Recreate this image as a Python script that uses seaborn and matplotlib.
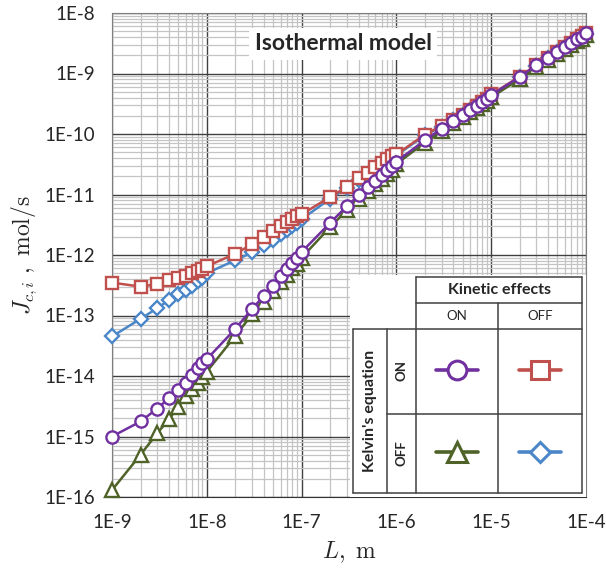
import matplotlib
matplotlib.use("Agg")
import matplotlib.pyplot as plt
import matplotlib.ticker as mticker
import numpy as np
import pandas as pd
import seaborn as sns

# Pore size L (m)
L = [1e-9, 2e-9, 3e-9, 4e-9, 5e-9, 6e-9, 7e-9, 8e-9, 9e-9,
     1e-8, 2e-8, 3e-8, 4e-8, 5e-8, 6e-8, 7e-8, 8e-8, 9e-8,
     1e-7, 2e-7, 3e-7, 4e-7, 5e-7, 6e-7, 7e-7, 8e-7, 9e-7,
     1e-6, 2e-6, 3e-6, 4e-6, 5e-6, 6e-6, 7e-6, 8e-6, 9e-6,
     1e-5, 2e-5, 3e-5, 4e-5, 5e-5, 6e-5, 7e-5, 8e-5, 9e-5,
     1e-4]

# Kelvin ON / Kinetic ON
J_on_on = [1.0e-15, 1.77e-15, 2.9e-15, 4.3e-15, 5.9e-15, 7.8e-15, 1.04e-14, 1.37e-14, 1.62e-14,
           1.9e-14, 6.0e-14, 1.29e-13, 2.1e-13, 3.1e-13, 4.5e-13, 5.8e-13, 7.5e-13, 9.0e-13,
           1.12e-12, 3.4e-12, 6.4e-12, 9.7e-12, 1.34e-11, 1.7e-11, 2.1e-11, 2.5e-11, 2.95e-11,
           3.5e-11, 7.9e-11, 1.22e-10, 1.66e-10, 2.09e-10, 2.47e-10, 2.9e-10, 3.35e-10, 3.8e-10,
           4.4e-10, 8.8e-10, 1.37e-9, 1.82e-9, 2.29e-9, 2.77e-9, 3.2e-9, 3.7e-9, 4.05e-9,
           4.6e-9]

# Kelvin ON / Kinetic OFF
J_on_off = [3.5e-13, 3.0e-13, 3.3e-13, 3.8e-13, 4.1e-13, 4.5e-13, 5.0e-13, 5.5e-13, 5.9e-13,
            6.5e-13, 1.05e-12, 1.5e-12, 2.0e-12, 2.5e-12, 3.0e-12, 3.5e-12, 4.0e-12, 4.4e-12,
            4.7e-12, 9.1e-12, 1.34e-11, 1.84e-11, 2.3e-11, 2.8e-11, 3.3e-11, 3.9e-11, 4.3e-11,
            4.6e-11, 9.8e-11, 1.37e-10, 1.73e-10, 2.1e-10, 2.5e-10, 2.9e-10, 3.35e-10, 3.8e-10,
            4.5e-10, 8.9e-10, 1.38e-9, 1.83e-9, 2.3e-9, 2.78e-9, 3.22e-9, 3.7e-9, 4.1e-9,
            4.6e-9]

# Kelvin OFF / Kinetic ON
J_off_on = [1.3e-16, 5.0e-16, 1.13e-15, 1.94e-15, 3.1e-15, 4.6e-15, 6.1e-15, 7.8e-15, 9.6e-15,
            1.18e-14, 4.6e-14, 1.04e-13, 1.7e-13, 2.5e-13, 3.6e-13, 4.6e-13, 6.0e-13, 7.2e-13,
            9.0e-13, 2.9e-12, 5.5e-12, 8.3e-12, 1.15e-11, 1.47e-11, 1.82e-11, 2.17e-11, 2.56e-11,
            3.2e-11, 7.2e-11, 1.12e-10, 1.52e-10, 1.92e-10, 2.27e-10, 2.67e-10, 3.08e-10, 3.5e-10,
            4.05e-10, 8.1e-10, 1.26e-9, 1.68e-9, 2.11e-9, 2.55e-9, 2.95e-9, 3.4e-9, 3.75e-9,
            4.25e-9]

# Kelvin OFF / Kinetic OFF
J_off_off = [4.5e-14, 8.8e-14, 1.32e-13, 1.8e-13, 2.25e-13, 2.65e-13, 3.1e-13, 3.65e-13, 4.1e-13,
             5.0e-13, 8.2e-13, 1.1e-12, 1.45e-12, 1.8e-12, 2.2e-12, 2.6e-12, 3.0e-12, 3.4e-12,
             3.9e-12, 8.5e-12, 1.28e-11, 1.76e-11, 2.2e-11, 2.7e-11, 3.2e-11, 3.75e-11, 4.15e-11,
             4.45e-11, 9.5e-11, 1.33e-10, 1.7e-10, 2.05e-10, 2.45e-10, 2.85e-10, 3.3e-10, 3.75e-10,
             4.4e-10, 8.7e-10, 1.35e-9, 1.8e-9, 2.26e-9, 2.74e-9, 3.18e-9, 3.65e-9, 4.05e-9,
             4.55e-9]

x_ticks = [1e-9, 1e-8, 1e-7, 1e-6, 1e-5, 1e-4]
y_ticks = [1e-16, 1e-15, 1e-14, 1e-13, 1e-12, 1e-11, 1e-10, 1e-9, 1e-8]

PURPLE = "#7030A0"
RED = "#C0504D"
GREEN = "#4F6228"
BLUE = "#4A86C8"

sns.set_style("white")
plt.rcParams["font.family"] = ["Lato", "DejaVu Sans"]
plt.rcParams["mathtext.fontset"] = "cm"

fig = plt.figure(figsize=(6.06, 5.75), dpi=100)
ax = fig.add_axes([112 / 606, 1 - 497 / 575, 474 / 606, 484 / 575])

# draw order: blue, red, green, purple on top
series = [
    (J_off_off, BLUE, "D", 7.2),
    (J_on_off, RED, "s", 8.0),
    (J_off_on, GREEN, "^", 9.5),
    (J_on_on, PURPLE, "o", 8.8),
]
for vals, col, mk, ms in series:
    df = pd.DataFrame({"L": L, "J": vals})
    sns.lineplot(data=df, x="L", y="J", ax=ax, color=col, lw=1.8,
                 marker=mk, markersize=ms, mfc="white", mec=col, mew=1.7,
                 legend=False, zorder=3, clip_on=False)

ax.set_xscale("log")
ax.set_yscale("log")
ax.set_xlim(1e-9, 1e-4)
ax.set_ylim(1e-16, 1e-8)

fmt = mticker.FuncFormatter(lambda v, _: f"1E{int(round(np.log10(v)))}")
ax.xaxis.set_major_locator(mticker.FixedLocator(x_ticks))
ax.yaxis.set_major_locator(mticker.FixedLocator(y_ticks))
ax.xaxis.set_major_formatter(fmt)
ax.yaxis.set_major_formatter(fmt)
ax.xaxis.set_minor_locator(mticker.LogLocator(base=10, subs=np.arange(2, 10), numticks=50))
ax.yaxis.set_minor_locator(mticker.LogLocator(base=10, subs=np.arange(2, 10), numticks=50))
ax.xaxis.set_minor_formatter(mticker.NullFormatter())
ax.yaxis.set_minor_formatter(mticker.NullFormatter())

ax.grid(which="minor", color="#c4c4c4", lw=0.9)
ax.grid(which="major", color="#404040", lw=1.0)
ax.set_axisbelow(True)

ax.tick_params(which="major", direction="out", length=5, width=1, color="#555555",
               labelsize=13.5, pad=7)
ax.tick_params(which="minor", length=0)
for s in ["left", "right", "top"]:
    ax.spines[s].set_color("#7f7f7f")
ax.spines["bottom"].set_color("#333333")

ax.set_xlabel(r"$L,\ \mathrm{m}$", fontsize=17, labelpad=6)
ax.set_ylabel(r"$J_{c,i}\ ,\ \mathrm{mol/s}$", fontsize=17, labelpad=4)

ax.text(0.488, 0.936, "Isothermal model", transform=ax.transAxes, ha="center", va="center",
        fontsize=16.5, fontweight="bold", zorder=5,
        bbox=dict(facecolor="white", edgecolor="none", pad=4))

# Legend table (pixel coordinates inside an inset axes)
lg = fig.add_axes([350 / 606, 1 - 497 / 575, 236 / 606, 222 / 575], zorder=6)
lg.set_xlim(350, 586)
lg.set_ylim(497, 275)
lg.axis("off")
lg.add_patch(plt.Rectangle((350, 275), 236, 222, facecolor="white", edgecolor="none"))
lc = "#404040"
hlines = [(277, 416, 582), (303, 416, 582), (329, 353, 582), (414, 387, 582), (493, 353, 582)]
vlines = [(353, 329, 493), (387, 329, 493), (416, 277, 493), (498, 303, 493), (582, 277, 493)]
for y, x0, x1 in hlines:
    lg.plot([x0, x1], [y, y], color=lc, lw=1.1)
for x, y0, y1 in vlines:
    lg.plot([x, x], [y0, y1], color=lc, lw=1.1)

lg.text(499, 290, "Kinetic effects", ha="center", va="center", fontsize=11.5, fontweight="bold")
lg.text(457, 316, "ON", ha="center", va="center", fontsize=9.5)
lg.text(540, 316, "OFF", ha="center", va="center", fontsize=9.5)
lg.text(370, 411, "Kelvin's equation", ha="center", va="center", rotation=90,
        fontsize=11.5, fontweight="bold")
lg.text(402, 371, "ON", ha="center", va="center", rotation=90, fontsize=9.5, fontweight="bold")
lg.text(402, 453, "OFF", ha="center", va="center", rotation=90, fontsize=9.5, fontweight="bold")

keys = [(457, 370, PURPLE, "o", 13.5), (540, 370, RED, "s", 12.5),
        (457, 452, GREEN, "^", 14), (540, 452, BLUE, "D", 10.5)]
for cx, cy, col, mk, ms in keys:
    lg.plot([cx - 21, cx + 21], [cy, cy], color=col, lw=2.6, solid_capstyle="round")
    lg.plot([cx], [cy], marker=mk, ms=ms, mfc="white", mec=col, mew=2.2)

fig.savefig("out.png", dpi=100)
